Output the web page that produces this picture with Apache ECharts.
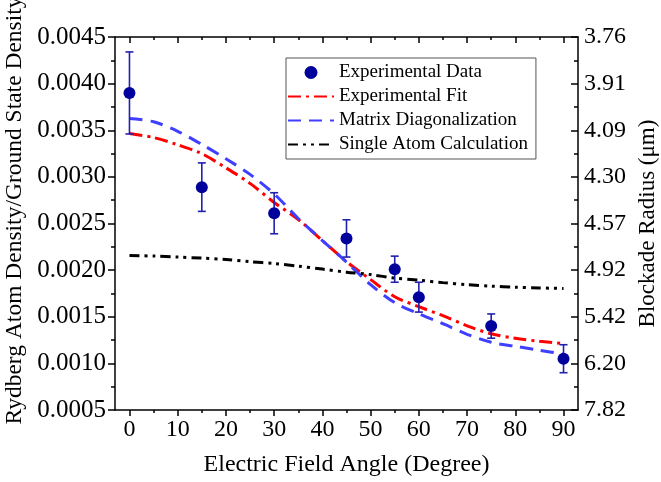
<!DOCTYPE html>
<html>
<head>
<meta charset="utf-8">
<title>Rydberg density vs electric field angle</title>
<script src="https://cdn.jsdelivr.net/npm/echarts@6/dist/echarts.min.js"></script>
<style>
    html, body { margin: 0; padding: 0; background: #fff; }
    #chart { width: 661px; height: 482px; }
</style>
</head>
<body>
<div id="chart"></div>
<script>
    // measured points: angle, value, error
    var dataAngles = [0, 15, 30, 45, 55, 60, 75, 90];
    var dataValues = [0.00390, 0.00289, 0.00261, 0.00234, 0.00201, 0.00171, 0.00140, 0.00105];
    var dataErrors = [0.00044, 0.00026, 0.00022, 0.00020, 0.00014, 0.00016, 0.00013, 0.00015];

    // curves, read every 5 degrees
    var curveAngles = [0, 5, 10, 15, 20, 25, 30, 35, 40, 45, 50, 55, 60, 65, 70, 75, 80, 85, 90];
    var fitValues = [0.003465, 0.003422, 0.003344, 0.003249, 0.003097, 0.002930, 0.002726, 0.002543, 0.002317, 0.002091,
        0.001898, 0.001715, 0.001608, 0.001511, 0.001403, 0.001317, 0.001269, 0.001237, 0.001213];
    var matrixValues = [0.003626, 0.003591, 0.003489, 0.003349, 0.003194, 0.003027, 0.002817, 0.002554, 0.002317, 0.002086,
        0.001844, 0.001651, 0.001532, 0.001425, 0.001312, 0.001226, 0.001183, 0.001140, 0.001099];
    var singleValues = [0.002156, 0.002151, 0.002140, 0.002129, 0.002113, 0.002091, 0.002070, 0.002043, 0.002011, 0.001978,
        0.001952, 0.001914, 0.001892, 0.001866, 0.001844, 0.001828, 0.001817, 0.001809, 0.001804];

    var xMajorTicks = [0, 10, 20, 30, 40, 50, 60, 70, 80, 90];
    var xMinorTicks = [5, 15, 25, 35, 45, 55, 65, 75, 85];
    // right axis labels, bottom to top
    var radiusLabels = ['7.82', '6.20', '5.42', '4.92', '4.57', '4.30', '4.09', '3.91', '3.76'];
    var yTop = 0.0045;

    var font = 'Liberation Serif';
    var chart = echarts.init(document.getElementById('chart'));

    function pairs(xs, ys) {
        var out = [];
        for (var i = 0; i < xs.length; i++) out.push([xs[i], ys[i]]);
        return out;
    }

    var errData = [];
    for (var i = 0; i < dataAngles.length; i++) {
        errData.push([dataAngles[i], dataValues[i] - dataErrors[i], dataValues[i] + dataErrors[i]]);
    }

    function line(show) {
        return {show: show, onZero: false, lineStyle: {color: '#000', width: 1.5}};
    }
    var tickStyle = {width: 1.5, color: '#000'};

    // same plot box for every grid; outerBoundsMode none keeps v6 from shrinking it
    function box() {
        return {left: 115, right: 83, top: 37, bottom: 72, outerBoundsMode: 'none'};
    }
    // hide the round marker ECharts puts on line legend icons
    var noMarker = {opacity: 0};

    // tick-only x axis on its own grid: top frame and the minor ticks
    function bareX(grid, pos, ticks, len, showLine) {
        return {
            type: 'value', gridIndex: grid, position: pos, min: -3, max: 93, z: 10,
            axisLine: line(showLine),
            axisTick: {show: true, inside: pos === 'top', length: len, customValues: ticks, lineStyle: tickStyle},
            axisLabel: {show: false, customValues: ticks},
            splitLine: {show: false}
        };
    }
    function bareY(grid) {
        return {type: 'value', gridIndex: grid, min: 0.0005, max: 0.0045, show: false};
    }

    var option = {
        animation: false,
        grid: [box(), box(), box(), box()],
        legend: {
            orient: 'vertical',
            left: 286,
            top: 58,
            padding: [5, 8, 5, 1],
            itemWidth: 46,
            itemHeight: 13,
            itemGap: 5,
            backgroundColor: '#fff',
            borderColor: '#555',
            borderWidth: 1,
            borderRadius: 0,
            textStyle: {fontFamily: font, fontSize: 19, color: '#000'},
            data: [
                {name: 'Experimental Data', icon: 'circle'},
                {name: 'Experimental Fit', itemStyle: noMarker},
                {name: 'Matrix Diagonalization', itemStyle: noMarker},
                {name: 'Single Atom Calculation', itemStyle: noMarker}
            ]
        },
        xAxis: [
            {
                type: 'value', gridIndex: 0, position: 'bottom', min: -3, max: 93,
                name: 'Electric Field Angle (Degree)', nameLocation: 'middle', nameGap: 43,
                nameTextStyle: {fontFamily: font, fontSize: 24, color: '#000'},
                axisLine: line(true),
                axisTick: {show: true, inside: false, length: 6, customValues: xMajorTicks, lineStyle: tickStyle},
                axisLabel: {show: true, customValues: xMajorTicks, fontFamily: font, fontSize: 24, color: '#000', margin: 8},
                splitLine: {show: false}
            },
            bareX(1, 'top', xMajorTicks, 6, true),
            bareX(2, 'bottom', xMinorTicks, 3, false),
            bareX(3, 'top', xMinorTicks, 3, false)
        ],
        yAxis: [
            {
                type: 'value', gridIndex: 0, position: 'left', min: 0.0005, max: yTop, interval: 0.0005,
                name: 'Rydberg Atom Density/Ground State Density', nameLocation: 'middle', nameGap: 83, nameRotate: 90,
                nameTextStyle: {fontFamily: font, fontSize: 23.5, color: '#000', padding: [0, 0, 0, 26]},
                axisLine: line(true),
                axisTick: {show: true, inside: false, length: 7, lineStyle: tickStyle},
                minorTick: {show: true, splitNumber: 2, length: 4, lineStyle: tickStyle},
                axisLabel: {
                    fontFamily: font, fontSize: 25, color: '#000', margin: 9,
                    formatter: function (v) { return v.toFixed(4); }
                },
                splitLine: {show: false}
            },
            {
                type: 'value', gridIndex: 0, position: 'right', min: 0.0005, max: yTop, interval: 0.0005,
                name: 'Blockade Radius (μm)', nameLocation: 'middle', nameGap: 50, nameRotate: 90,
                nameTextStyle: {fontFamily: font, fontSize: 23, color: '#000'},
                axisLine: line(true),
                axisTick: {show: true, inside: true, length: 7, lineStyle: tickStyle},
                minorTick: {show: true, splitNumber: 2, length: 4, lineStyle: tickStyle},
                axisLabel: {
                    fontFamily: font, fontSize: 24, color: '#000', margin: 6,
                    formatter: function (v) { return radiusLabels[Math.round((v - 0.0005) / 0.0005)]; }
                },
                splitLine: {show: false}
            },
            bareY(1), bareY(2), bareY(3)
        ],
        series: [
            {
                name: 'Experimental Fit', type: 'line', xAxisIndex: 0, yAxisIndex: 0,
                data: pairs(curveAngles, fitValues), smooth: 0.3, symbol: 'none', z: 3,
                itemStyle: {color: '#ff0000'},
                lineStyle: {color: '#ff0000', width: 3, type: [13, 5, 3, 5]}
            },
            {
                name: 'Matrix Diagonalization', type: 'line', xAxisIndex: 0, yAxisIndex: 0,
                data: pairs(curveAngles, matrixValues), smooth: 0.3, symbol: 'none', z: 3,
                itemStyle: {color: '#3f3fff'},
                lineStyle: {color: '#3f3fff', width: 3, type: [13, 8]}
            },
            {
                name: 'Single Atom Calculation', type: 'line', xAxisIndex: 0, yAxisIndex: 0,
                data: pairs(curveAngles, singleValues), smooth: 0.3, symbol: 'none', z: 3,
                itemStyle: {color: '#000'},
                lineStyle: {color: '#000', width: 3, type: [10, 5, 3, 5, 3, 5]}
            },
            {
                name: 'error', type: 'custom', xAxisIndex: 0, yAxisIndex: 0, z: 4,
                data: errData,
                renderItem: function (params, api) {
                    var x = api.value(0);
                    var lo = api.coord([x, api.value(1)]);
                    var hi = api.coord([x, api.value(2)]);
                    var w = 4;
                    var st = {stroke: '#2121b0', lineWidth: 1.6};
                    return {
                        type: 'group',
                        children: [
                            {type: 'line', shape: {x1: hi[0], y1: hi[1], x2: lo[0], y2: lo[1]}, style: st},
                            {type: 'line', shape: {x1: hi[0] - w, y1: hi[1], x2: hi[0] + w, y2: hi[1]}, style: st},
                            {type: 'line', shape: {x1: lo[0] - w, y1: lo[1], x2: lo[0] + w, y2: lo[1]}, style: st}
                        ]
                    };
                }
            },
            {
                name: 'Experimental Data', type: 'scatter', xAxisIndex: 0, yAxisIndex: 0, z: 5,
                data: pairs(dataAngles, dataValues), symbol: 'circle', symbolSize: 12,
                itemStyle: {color: '#00009c', opacity: 1},
                // top edge of the frame, placed at the axis max
                markLine: {
                    silent: true,
                    symbol: 'none',
                    label: {show: false},
                    lineStyle: {color: '#000', width: 1.5, type: 'solid'},
                    emphasis: {disabled: true},
                    data: [{yAxis: yTop}]
                }
            }
        ]
    };

    chart.setOption(option);
    window.onresize = chart.resize;
</script>
</body>
</html>
